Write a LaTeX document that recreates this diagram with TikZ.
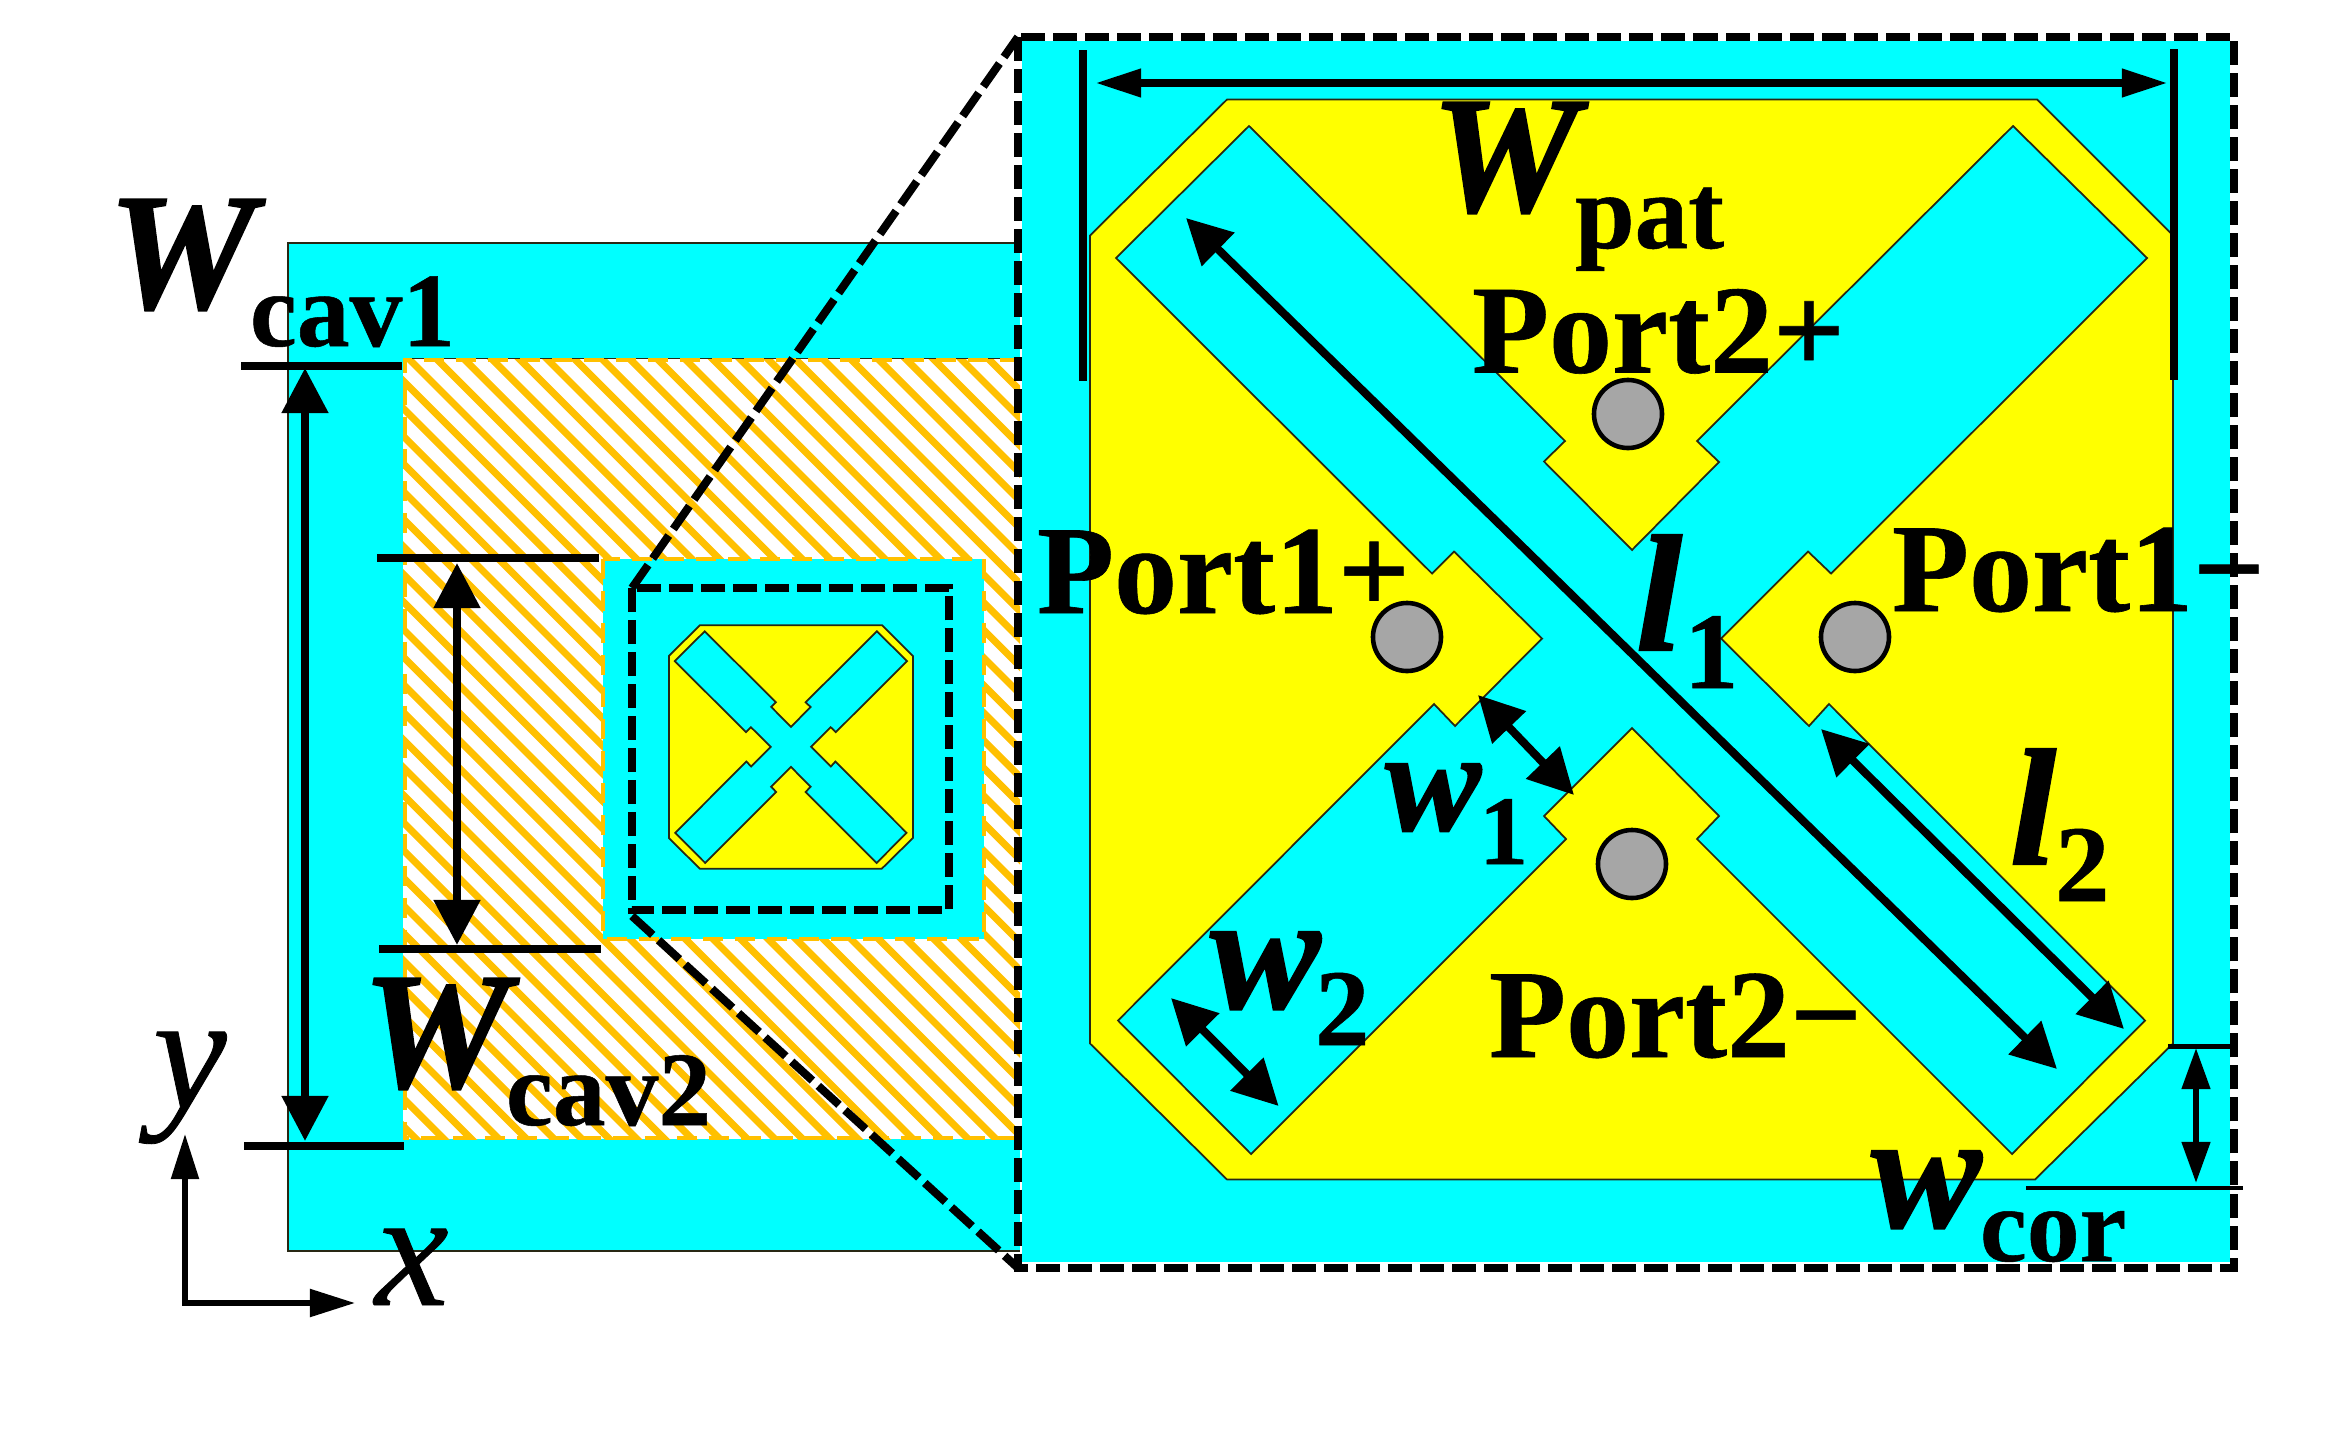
\documentclass[tikz,border=0pt]{standalone}
\usepackage{fontspec}
\setmainfont{Liberation Serif}
\newfontfamily\bifont[FakeBold=1.2]{Liberation Serif Bold Italic}
\newfontfamily\bofont[FakeBold=0.5]{Liberation Serif Bold}
\newfontfamily\itfont[FakeBold=0.5]{Liberation Serif Italic}
\usetikzlibrary{arrows.meta}
\definecolor{cy}{RGB}{0,255,255}
\definecolor{yl}{RGB}{255,255,0}
\definecolor{og}{RGB}{255,192,0}
\definecolor{gr}{RGB}{166,166,166}
\definecolor{edge}{RGB}{40,40,20}
\newcommand{\octpath}{(-405,-540) -- (405,-540) -- (541,-404) -- (541,404) -- (403,540) -- (-405,540) -- (-542,404) -- (-542,-404) -- cycle}
\newcommand{\xpath}{(-383,-513.5) -- (-67,-198.5) -- (-88,-178) -- (0,-89.5) -- (87,-177.5) -- (65,-198.5) -- (381,-513.5) -- (515,-381.5) -- (199,-66) -- (176,-88) -- (89,-1) -- (177,86.5) -- (197,64.5) -- (513,381) -- (380,514.5) -- (65,199.5) -- (87,176.5) -- (0,88.5) -- (-88,176.5) -- (-66,199.5) -- (-381,514.5) -- (-514,381) -- (-198,64.5) -- (-177,86.5) -- (-90,-1) -- (-178,-88) -- (-200,-66) -- (-516,-381.5) -- cycle}
\tikzset{
  patchoct/.style={fill=yl,draw=edge,line width=0.5pt},
  patchx/.style={fill=cy,draw=edge,line width=0.5pt},
  dashbox/.style={draw=black,line width=2pt,dash pattern=on .24cm off .08cm},
  dashdiag/.style={draw=black,line width=2.3pt,dash pattern=on .28cm off .08cm},
  ogdash/.style={draw=og,line width=1.4pt,dash pattern=on .2cm off .12cm},
  tick/.style={draw=black,line width=2.25pt},
  thintick/.style={draw=black,line width=1.4pt},
  dim/.style={draw=black,line width=2.3pt,{Triangle[length=.45cm,width=.45cm]}-{Triangle[length=.45cm,width=.45cm]}},
  dimflat/.style={draw=black,line width=2.4pt,{Triangle[length=.46cm,width=.265cm]}-{Triangle[length=.46cm,width=.265cm]}},
  dimcor/.style={draw=black,line width=1.7pt,{Triangle[length=.41cm,width=.275cm]}-{Triangle[length=.41cm,width=.275cm]}},
  axisline/.style={draw=black,line width=1.5pt,{Triangle[length=.45cm,width=.27cm]}-{Triangle[length=.45cm,width=.27cm]}},
  via/.style={fill=gr,draw=black,line width=1.3pt,circle,minimum size=.68cm,inner sep=0pt},
  txt/.style={anchor=base west,inner sep=0pt,outer sep=0pt,text=black},
  bigit/.style={txt,font=\bifont\fontsize{47.2}{47.2}\selectfont},
  portlbl/.style={txt,font=\bofont\fontsize{35.85}{35.85}\selectfont},
  sublbl/.style={txt,font=\bofont\fontsize{30}{30}\selectfont},
  axlbl/.style={txt,font=\itfont\fontsize{47.2}{47.2}\selectfont},
}
\begin{document}
\begin{tikzpicture}[x=0.01cm,y=-0.01cm]
\useasboundingbox (0,0) rectangle (2347,1442);
% left substrate
\fill[cy] (288,243) rectangle (1020,1251);
\draw[edge,line width=0.5pt] (1020,243) -- (288,243) -- (288,1251) -- (1020,1251);
% hatched cavity
\fill[white] (403,359) rectangle (1020,1139);
\begin{scope}
  \clip (403,359) rectangle (1020,1139);
  \foreach \k in {-30,...,24}
    \draw[og,line width=2pt] ({350+27.6*\k},300) -- ({1250+27.6*\k},1200);
\end{scope}
\draw[edge,line width=0.5pt] (403,358.5) -- (1020,358.5);
\draw[ogdash] (1020,360) -- (405,360) -- (405,1138) -- (1020,1138);
% inner cavity
\fill[cy] (603,559) rectangle (984,939);
\draw[ogdash] (603,559) rectangle (984,939);
% small patch
\begin{scope}[shift={(791,747)},scale=0.2253]
  \draw[patchoct] \octpath;
  \draw[patchx] \xpath;
\end{scope}
% zoom lines
\coordinate (st) at (632,588);
\coordinate (sb) at (632,916);
\coordinate (bt) at (1018,37);
\coordinate (bb) at (1018,1268);
\draw[dashbox] (st) rectangle (949,910);
\draw[dashdiag] (st) -- (bt);
\draw[dashdiag] (sb) -- (bb);
% big panel
\fill[cy] (1022,41) rectangle (2230,1262);
\begin{scope}[shift={(1632,639.5)}]
  \draw[patchoct] \octpath;
  \draw[patchx] \xpath;
\end{scope}
\node[via] (v2p) at (1628,414) {};
\node[via] (v1p) at (1407,637) {};
\node[via] (v1m) at (1855,637) {};
\node[via] (v2m) at (1632,864) {};
\draw[dashbox] (bt) rectangle (2234,1268);
% ticks
\coordinate (c1a) at (241,366); \coordinate (c1b) at (402,366);
\coordinate (c1c) at (244,1146); \coordinate (c1d) at (404,1146);
\draw[tick] (c1a) -- (c1b);
\draw[tick] (c1c) -- (c1d);
\coordinate (c2a) at (377,558); \coordinate (c2b) at (599,558);
\coordinate (c2c) at (379,949); \coordinate (c2d) at (601,949);
\draw[tick] (c2a) -- (c2b);
\draw[tick] (c2c) -- (c2d);
\coordinate (pa) at (1083,50); \coordinate (pb) at (1083,381);
\coordinate (pc) at (2174,49); \coordinate (pd) at (2174,380);
\draw[tick] (pa) -- (pb);
\draw[tick] (pc) -- (pd);
\coordinate (ca) at (2168,1046.5); \coordinate (cb) at (2232,1046.5);
\coordinate (cc) at (2026,1188); \coordinate (cd) at (2243,1188);
\draw[thintick] (ca) -- (cb);
\draw[thintick] (cc) -- (cd);
% dimension arrows
\coordinate (a1) at (305,368); \coordinate (a2) at (305,1141);
\draw[dim] (a1) -- (a2);
\coordinate (a3) at (457,563); \coordinate (a4) at (457,945);
\draw[dim] (a3) -- (a4);
\coordinate (a5) at (1095,83); \coordinate (a6) at (2168,83);
\draw[dimflat] (a5) -- (a6);
\coordinate (a7) at (1186,218); \coordinate (a8) at (2057,1069);
\draw[dim] (a7) -- (a8);
\coordinate (a9) at (1821,729); \coordinate (a10) at (2124,1029);
\draw[dim] (a9) -- (a10);
\coordinate (a11) at (1478,695); \coordinate (a12) at (1574,795);
\draw[dim] (a11) -- (a12);
\coordinate (a13) at (1171,998); \coordinate (a14) at (1278.6,1106);
\draw[dim] (a13) -- (a14);
\coordinate (a15) at (2196,1048); \coordinate (a16) at (2196,1183);
\draw[dimcor] (a15) -- (a16);
% axes
\coordinate (ay) at (185,1134); \coordinate (ao) at (185,1303); \coordinate (ax) at (355,1303);
\draw[axisline] (ay) -- (ao) -- (ax);
% text
\node[bigit] (tWp) at (1431,211) {W};
\node[sublbl,font=\bofont\fontsize{30.5}{30.5}\selectfont] (tpat) at (1575,248) {pat};
\node[portlbl] (tp2p) at (1472,372.5) {Port2+};
\node[portlbl] (tp1p) at (1037,613) {Port1+};
\node[portlbl] (tp1m) at (1892,611) {Port1−};
\node[portlbl] (tp2m) at (1489,1057) {Port2−};
\node[bigit] (tWc1) at (108,308) {W};
\node[sublbl] (tc1) at (250,346) {cav1};
\node[bigit] (tWc2) at (362,1087) {W};
\node[sublbl] (tc2) at (506,1125) {cav2};
\node[bigit,font=\bifont\fontsize{41}{41}\selectfont] (tw1) at (1385,830) {w};
\node[sublbl,font=\bofont\fontsize{28}{28}\selectfont] (t1) at (1479,864) {1};
\node[bigit] (tw2) at (1210,1008) {w};
\node[sublbl,font=\bofont\fontsize{31}{31}\selectfont] (t2) at (1315,1045) {2};
\node[bigit] (tl1) at (1636,650) {l};
\node[sublbl,font=\bofont\fontsize{31}{31}\selectfont] (t11) at (1684,688) {1};
\node[bigit] (tl2) at (2010,864) {l};
\node[sublbl,font=\bofont\fontsize{31}{31}\selectfont] (t22) at (2055,901) {2};
\node[bigit] (twc) at (1871,1227) {w};
\node[sublbl] (tcor) at (1980,1261) {cor};
\node[axlbl] (ty) at (153,1108) {y};
\node[axlbl] (tx) at (375,1305) {x};
\end{tikzpicture}
\end{document}
